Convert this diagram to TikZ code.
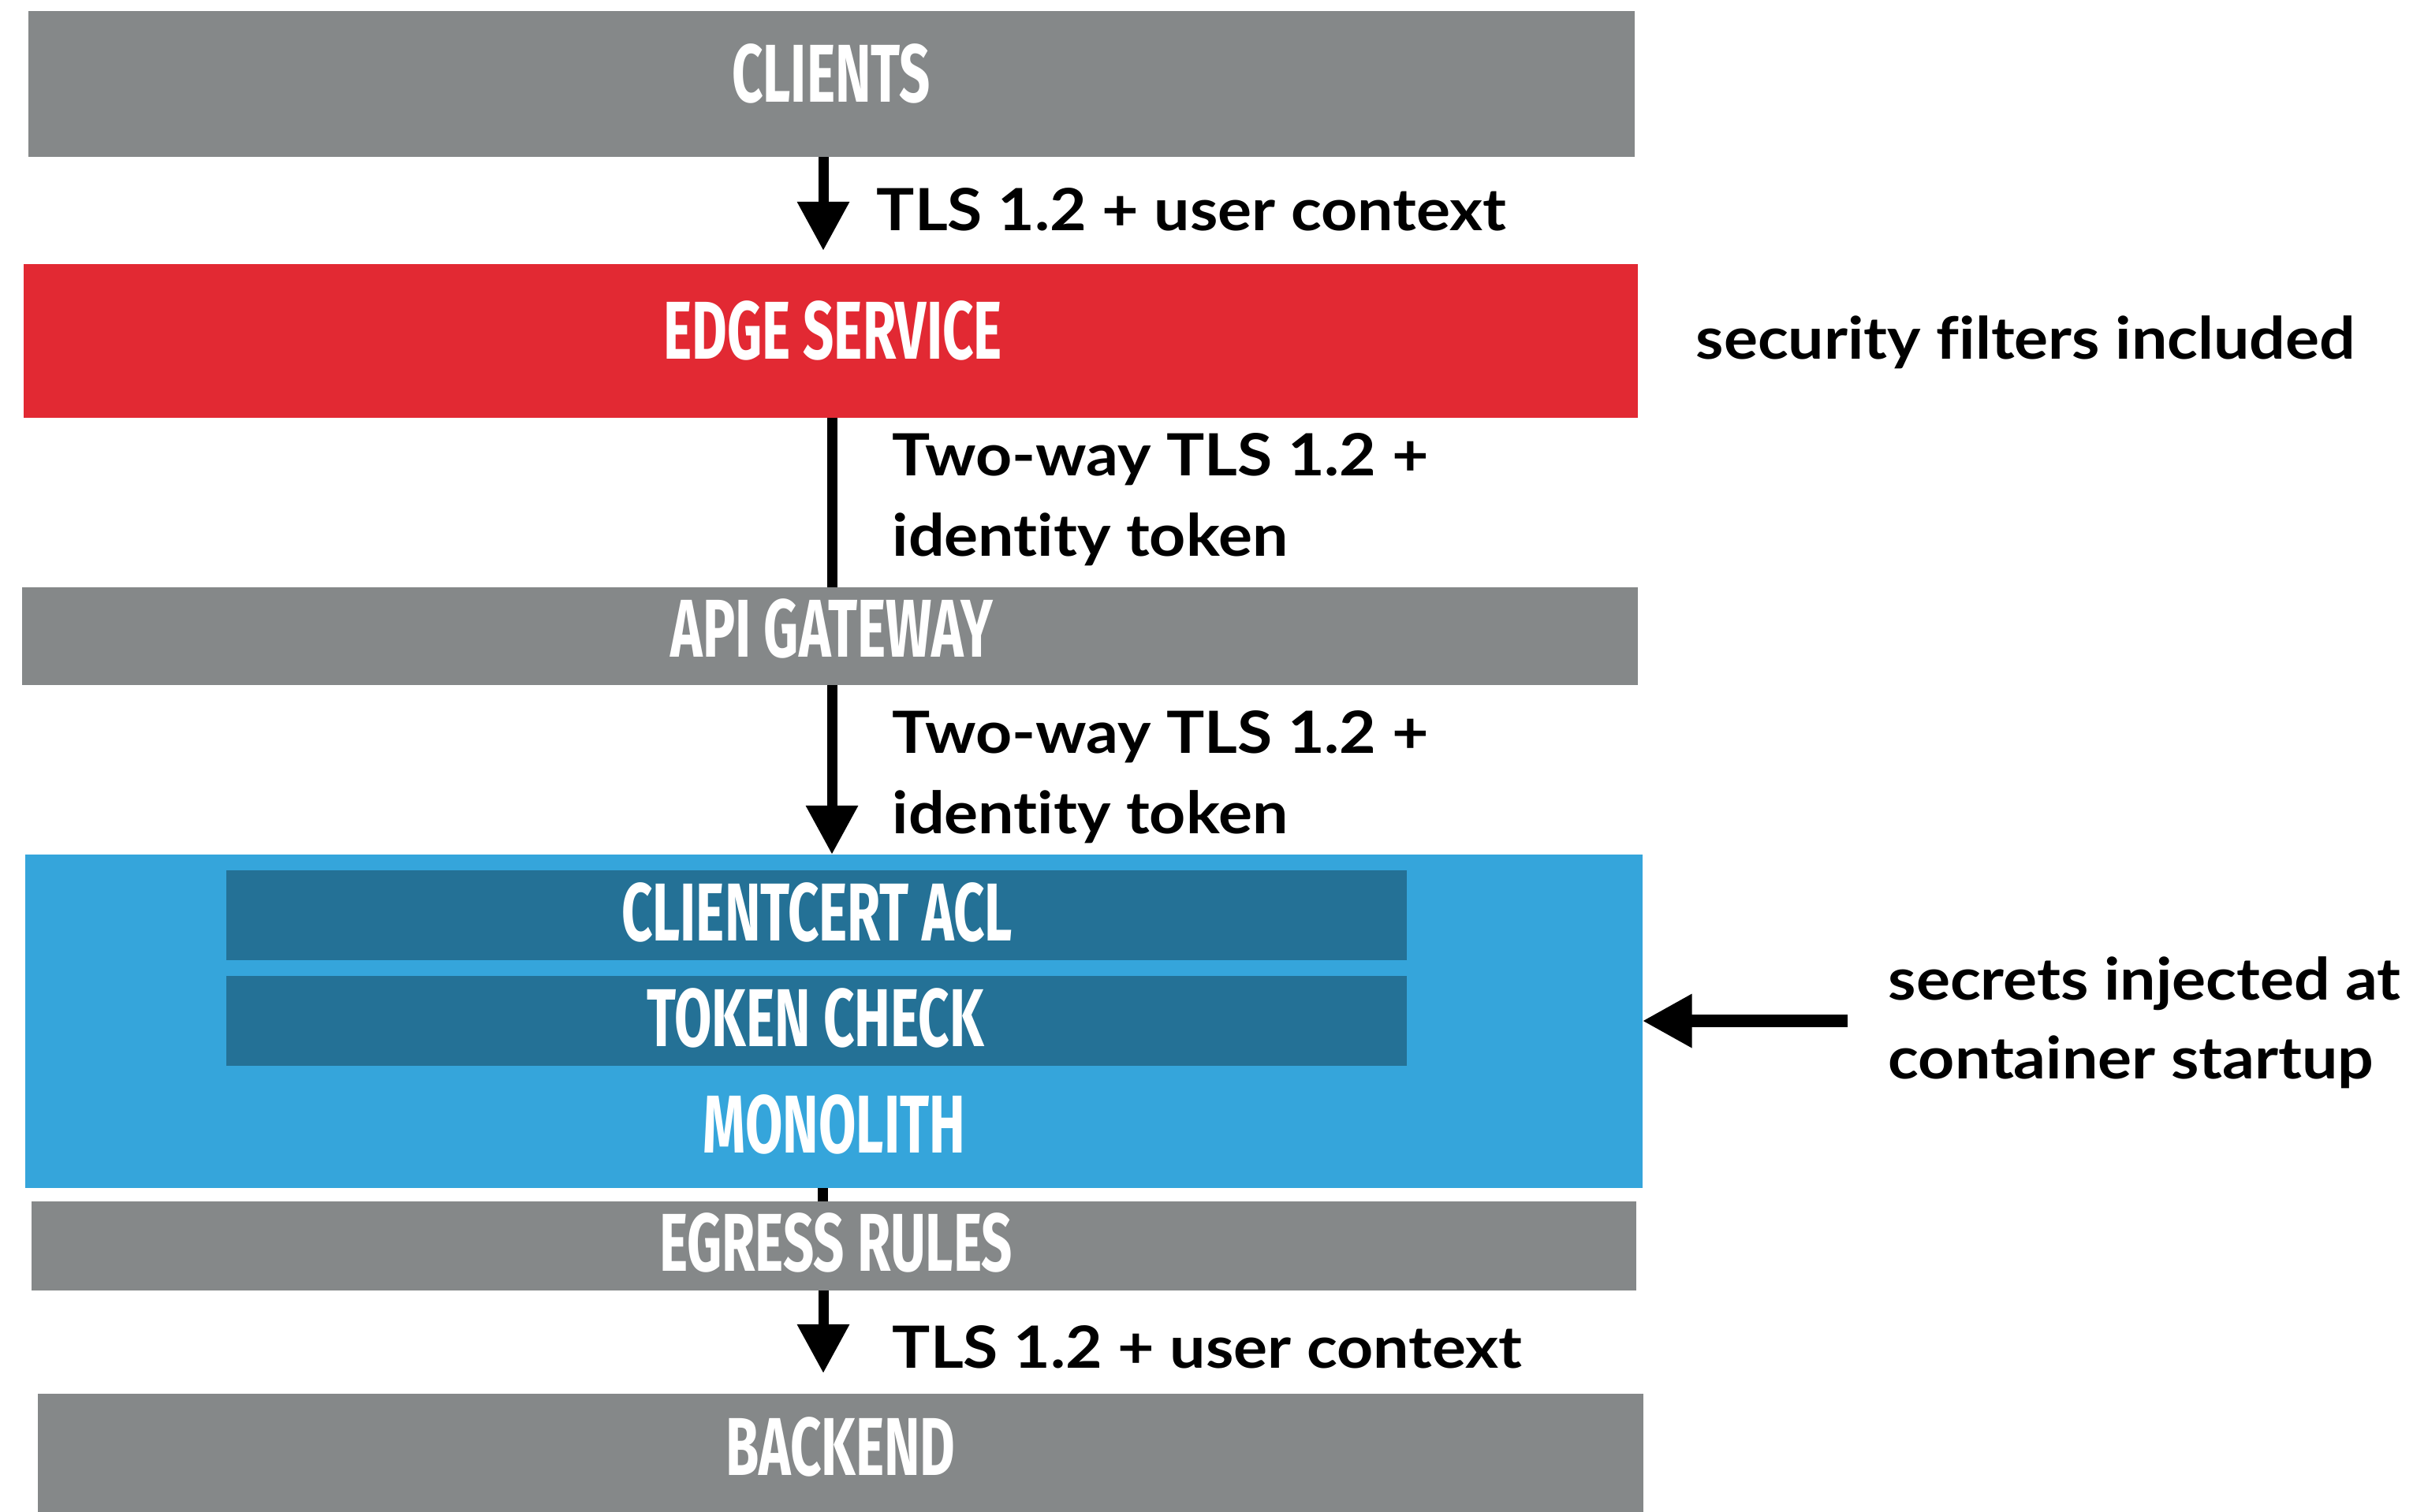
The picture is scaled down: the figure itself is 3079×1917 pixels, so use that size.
\documentclass[tikz,border=0pt]{standalone}
\usepackage{fontspec}
\setmainfont{Lato}[FakeStretch=1.09, Ligatures=NoCommon]
\newfontfamily\boxfont[FakeStretch=0.66]{Fira Sans}
\usetikzlibrary{arrows.meta}

\definecolor{slate}{HTML}{858889}
\definecolor{edgered}{HTML}{E22933}
\definecolor{monoblue}{HTML}{35A5DB}
\definecolor{checkblue}{HTML}{247196}

\begin{document}
\begin{tikzpicture}[x=0.01cm, y=-0.01cm,
  block/.style={inner sep=0pt, outer sep=0pt, draw=none},
  boxlabel/.style={text=white, anchor=base, inner sep=0pt,
    font=\boxfont\bfseries\fontsize{29.6}{32}\selectfont},
  lbl/.style={anchor=base west, inner sep=0pt,
    font=\bfseries\fontsize{21}{25}\selectfont},
  flow/.style={line width=0.13cm},
  tip/.style={-{Triangle[length=0.62cm, width=0.63cm]}}
]
\useasboundingbox (0,0) rectangle (3079,1917);
\fill[white] (0,0) rectangle (3079,1917);

% layers, top to bottom
\node[block, fill=slate,    minimum width=20.35cm, minimum height=1.85cm] (clients) at (1054.5,106.5) {};
\node[block, fill=edgered,  minimum width=20.45cm, minimum height=1.95cm] (edge)    at (1053.5,432.5) {};
\node[block, fill=slate,    minimum width=20.47cm, minimum height=1.24cm] (api)     at (1052.5,807) {};
\node[block, fill=monoblue, minimum width=20.49cm, minimum height=4.23cm] (mono)    at (1057.5,1295.5) {};
\node[block, fill=checkblue,minimum width=14.97cm, minimum height=1.14cm] (acl)     at (1035.5,1161) {};
\node[block, fill=checkblue,minimum width=14.97cm, minimum height=1.14cm] (tok)     at (1035.5,1295) {};
\node[block, fill=slate,    minimum width=20.33cm, minimum height=1.13cm] (egress)  at (1057.5,1580.5) {};
\node[block, fill=slate,    minimum width=20.34cm, minimum height=1.62cm] (backend) at (1066,1849) {};

% layer names
\node[boxlabel] (clientsT) at (1054,129)  {CLIENTS};
\node[boxlabel] (edgeT)    at (1056,455)  {EDGE SERVICE};
\node[boxlabel] (apiT)     at (1055,833)  {API GATEWAY};
\node[boxlabel] (aclT)     at (1036,1193) {CLIENTCERT ACL};
\node[boxlabel] (tokT)     at (1034,1327) {TOKEN CHECK};
\node[boxlabel] (monoT)    at (1058,1462) {MONOLITH};
\node[boxlabel] (egressT)  at (1060,1612) {EGRESS RULES};
\node[boxlabel] (backendT) at (1066,1871) {BACKEND};

% x positions of the vertical links
\coordinate (ax1) at (1044,0);
\coordinate (ax2) at (1055,0);
\coordinate (ax3) at (1043,0);
\coordinate (src) at (2343,1295);

% links
\draw[flow, tip, shorten >=0.17cm] (clients.south -| ax1) -- (edge.north -| ax1);
\draw[flow] (edge.south -| ax2) -- (api.north -| ax2);
\draw[flow, tip] (api.south -| ax2) -- (mono.north -| ax2);
\draw[flow] (mono.south -| ax3) -- (egress.north -| ax3);
\draw[flow, tip, shorten >=0.26cm] (egress.south -| ax1) -- (backend.north -| ax1);
\draw[line width=0.16cm, -{Triangle[length=0.63cm, width=0.64cm]}] (src) -- (mono.east |- src);

% link labels and notes
\node[lbl] (l1)   at (1111,292)  {TLS 1.2 + user context};
\node[lbl] (l2a)  at (1131,603)  {Two-way TLS 1.2 +};
\node[lbl] (l2b)  at (1131,705)  {identity token};
\node[lbl] (l3a)  at (1131,955)  {Two-way TLS 1.2 +};
\node[lbl] (l3b)  at (1131,1057) {identity token};
\node[lbl] (l4)   at (1131,1735) {TLS 1.2 + user context};
\node[lbl] (sec)  at (2150,455)  {security filters included};
\node[lbl] (inj1) at (2394,1268) {secrets injected at};
\node[lbl] (inj2) at (2394,1368) {container startup};
\end{tikzpicture}
\end{document}
